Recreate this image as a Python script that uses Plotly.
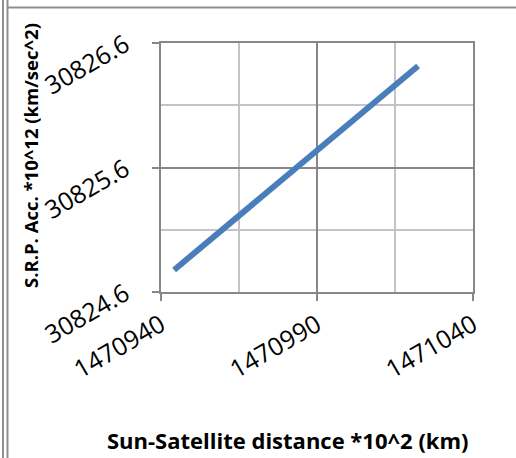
import plotly.graph_objects as go

# Sun-satellite distance (*10^2 km) and solar radiation pressure acceleration (*10^12 km/sec^2)
distance = [1470944.2, 1470960.0, 1470980.0, 1471000.0, 1471022.4]
srp_acc = [30824.777, 30825.108, 30825.525, 30825.942, 30826.415]

x_ticks = [1470940, 1470990, 1471040]
y_ticks = [30824.6, 30825.6, 30826.6]

blue = "#4a7ebb"
major = "#878787"
minor = "#c4c4c4"
tick_font = dict(family="Open Sans, Liberation Sans, sans-serif", size=25, color="#000000")
title_font = "Open Sans, Liberation Sans, sans-serif"

fig = go.Figure()
fig.add_trace(go.Scatter(
    x=distance, y=srp_acc, mode="lines",
    line=dict(color=blue, width=6),
    showlegend=False, hoverinfo="skip",
))

L, R, T, B = 161, 43, 43, 166
W, H = 516, 458
pw, ph = W - L - R, H - T - B


def px(x):
    return (x - L) / pw


def py(y):
    return (H - B - y) / ph


axis_common = dict(
    showline=True, linecolor=major, linewidth=1.5, mirror=True,
    showgrid=True, gridcolor=major, gridwidth=1.5,
    ticks="outside", ticklen=7, tickcolor=major, tickwidth=1.5,
    tickangle=-30, tickfont=tick_font, zeroline=False,
)

fig.update_xaxes(
    range=[x_ticks[0], x_ticks[-1]], tickvals=x_ticks,
    ticktext=[str(v) for v in x_ticks],
    minor=dict(tickvals=[1470965, 1471015], showgrid=True, gridcolor=minor, gridwidth=1.5, ticks=""),
    **axis_common,
)
fig.update_yaxes(
    range=[y_ticks[0], y_ticks[-1]], tickvals=y_ticks,
    ticktext=[f"{v:.1f}" for v in y_ticks],
    ticklabelstandoff=22, ticklabelshift=-1,
    minor=dict(tickvals=[30825.1, 30826.1], showgrid=True, gridcolor=minor, gridwidth=1.5, ticks=""),
    **axis_common,
)

# Outer frame lines
frame = "#8f8f8f"
shapes = [
    dict(type="line", xref="paper", yref="paper", x0=px(3), x1=px(3), y0=py(0), y1=py(W),
         line=dict(color=frame, width=2)),
    dict(type="line", xref="paper", yref="paper", x0=px(7.5), x1=px(7.5), y0=py(0), y1=py(W),
         line=dict(color=frame, width=2)),
    dict(type="line", xref="paper", yref="paper", x0=px(7.5), x1=px(W), y0=py(7.5), y1=py(7.5),
         line=dict(color=frame, width=2)),
]

annotations = [
    dict(text="<b>Sun-Satellite distance *10^2 (km)</b>", xref="paper", yref="paper",
         x=px(288), y=py(440), xanchor="center", yanchor="middle", showarrow=False,
         font=dict(family=title_font, size=22, color="#000000")),
    dict(text="<b>S.R.P. Acc. *10^12 (km/sec^2)</b>", xref="paper", yref="paper",
         x=px(30), y=py(156), xanchor="center", yanchor="middle", showarrow=False,
         textangle=-90, font=dict(family=title_font, size=18.5, color="#000000")),
]

fig.update_layout(
    width=W, height=H,
    margin=dict(l=L, r=R, t=T, b=B, autoexpand=False),
    paper_bgcolor="white", plot_bgcolor="white",
    shapes=shapes, annotations=annotations,
)

fig.write_html("out.html")
